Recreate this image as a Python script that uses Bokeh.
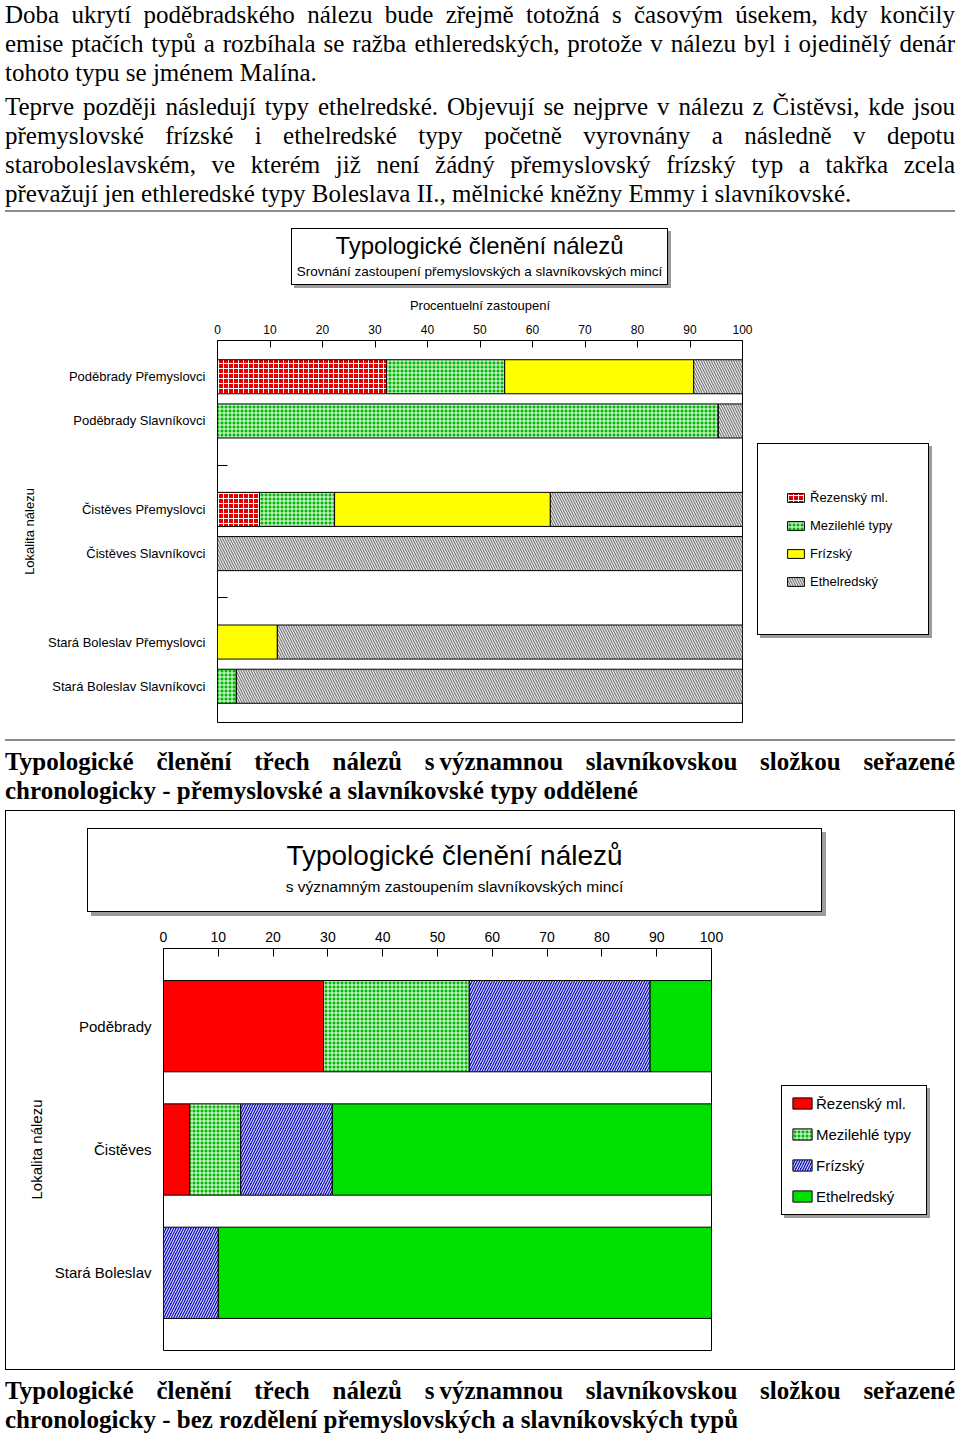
from bokeh.plotting import figure
from bokeh.models import (FactorRange, Range1d, CategoricalAxis, LinearAxis, FixedTicker,
                          Legend, LegendItem, Div, ColumnDataSource)
from bokeh.layouts import column
from bokeh.embed import file_html
from bokeh.resources import INLINE

# ---------------- texts ----------------
para1 = [
    "Doba ukrytí poděbradského nálezu bude zřejmě totožná s časovým úsekem, kdy končily",
    "emise ptačích typů a rozbíhala se ražba ethleredských, protože v nálezu byl i ojedinělý denár",
    "tohoto typu se jménem Malína.",
]
para2 = [
    "Teprve později následují typy ethelredské. Objevují se nejprve v nálezu z Čistěvsi, kde jsou",
    "přemyslovské frízské i ethelredské typy početně vyrovnány a následně v depotu",
    "staroboleslavském, ve kterém již není žádný přemyslovský frízský typ a takřka zcela",
    "převažují jen ethleredské typy Boleslava II., mělnické kněžny Emmy i slavníkovské.",
]
caption1 = [
    "Typologické členění třech nálezů s\u202fvýznamnou slavníkovskou složkou seřazené",
    "chronologicky - přemyslovské a slavníkovské typy oddělené",
]
caption2 = [
    "Typologické členění třech nálezů s\u202fvýznamnou slavníkovskou složkou seřazené",
    "chronologicky - bez rozdělení přemyslovských a slavníkovských typů",
]

title1 = "Typologické členění nálezů"
subtitle1 = "Srovnání zastoupení přemyslovských a slavníkovských mincí"
title2 = "Typologické členění nálezů"
subtitle2 = "s významným zastoupením slavníkovských mincí"
x_title1 = "Procentuelní zastoupení"
y_title = "Lokalita nálezu"

# ---------------- data ----------------
types = ["Řezenský ml.", "Mezilehlé typy", "Frízský", "Ethelredský"]
keys = ["rez", "mez", "fri", "eth"]
x_ticks = [0, 10, 20, 30, 40, 50, 60, 70, 80, 90, 100]

rows1 = ["Poděbrady Přemyslovci", "Poděbrady Slavníkovci", " ",
         "Čistěves Přemyslovci", "Čistěves Slavníkovci", "  ",
         "Stará Boleslav Přemyslovci", "Stará Boleslav Slavníkovci"]
cats1 = ["Poděbrady Přemyslovci", "Poděbrady Slavníkovci",
         "Čistěves Přemyslovci", "Čistěves Slavníkovci",
         "Stará Boleslav Přemyslovci", "Stará Boleslav Slavníkovci"]
rez1 = [32.2, 0.0, 8.0, 0.0, 0.0, 0.0]
mez1 = [22.5, 95.4, 14.3, 0.0, 0.0, 3.6]
fri1 = [36.0, 0.0, 41.1, 0.0, 11.4, 0.0]
eth1 = [9.3, 4.6, 36.6, 100.0, 88.6, 96.4]

cats2 = ["Poděbrady", "Čistěves", "Stará Boleslav"]
rez2 = [29.2, 4.8, 0.0]
mez2 = [26.6, 9.3, 0.0]
fri2 = [33.0, 16.7, 10.0]
eth2 = [11.2, 69.2, 90.0]

FONT = "Liberation Sans"
CSS_SANS = "font-family:'Liberation Sans',Arial,sans-serif;color:#000;"
W = 950
OV = 12  # vertical offset of overlay content inside a zero-height Div


def text_html(groups, size, weight, lh, gap):
    parts = []
    for gi, lines in enumerate(groups):
        for i, ln in enumerate(lines):
            al = "left" if i == len(lines) - 1 else "justify"
            mt = gap if (i == 0 and gi > 0) else 0
            parts.append(f'<div style="text-align:{al};text-align-last:{al};margin-top:{mt}px">{ln}</div>')
    return (f"<div style=\"width:{W}px;font-family:'Liberation Serif','Times New Roman',serif;"
            f"font-size:{size}px;font-weight:{weight};line-height:{lh}px;color:#000\">"
            + "".join(parts) + "</div>")


def hr(mt):
    return f'<div style="width:{W}px;height:0;border-top:2px solid #8c8c8c;margin-top:{mt}px"></div>'


def title_box(left, top, w, h, shadow, t, ts, tlh, tpad, s, ss, slh, sgap):
    return (f'<div style="{CSS_SANS}margin-left:{left}px;margin-top:{top}px;width:{w}px;height:{h}px;'
            f'box-sizing:border-box;border:1px solid #000;box-shadow:{shadow}px {shadow}px 0 #9c9c9c;'
            f'text-align:center;background:#fff">'
            f'<div style="font-size:{ts}px;line-height:{tlh}px;padding-top:{tpad}px;white-space:nowrap">{t}</div>'
            f'<div style="font-size:{ss}px;line-height:{slh}px;margin-top:{sgap}px;white-space:nowrap">{s}</div>'
            '</div>')


def overlay(boxes):
    inner = ""
    for (l, t, w, h, sh) in boxes:
        shadow = f"box-shadow:{sh}px {sh}px 0 #9c9c9c;" if sh else ""
        inner += (f'<div style="position:absolute;left:{l}px;top:{t - OV}px;width:{w}px;height:{h}px;'
                  f'box-sizing:border-box;border:1px solid #000;{shadow}pointer-events:none"></div>')
    return f'<div style="position:relative;width:0;height:0">{inner}</div>'


def style_top_axis(ax, size, tick_in, standoff):
    ax.ticker = FixedTicker(ticks=x_ticks, minor_ticks=[])
    ax.major_tick_in = tick_in
    ax.major_tick_out = 0
    ax.minor_tick_in = 0
    ax.minor_tick_out = 0
    ax.axis_line_color = "black"
    ax.major_tick_line_color = "black"
    ax.major_label_text_font = FONT
    ax.major_label_text_font_size = size
    ax.major_label_text_color = "black"
    ax.major_label_standoff = standoff


def base_fig(fw, fh, factors, pad, ml, mr, mt, mb):
    p = figure(frame_width=fw, frame_height=fh, output_backend="svg", toolbar_location=None,
               x_range=Range1d(0, 100),
               y_range=FactorRange(factors=factors, range_padding=pad, range_padding_units="absolute"),
               x_axis_location="above", y_axis_location=None,
               min_border_left=ml, min_border_right=mr, min_border_top=mt, min_border_bottom=mb,
               frame_align=False)
    p.xgrid.visible = False
    p.ygrid.visible = False
    p.outline_line_color = "black"
    p.background_fill_color = "white"
    p.border_fill_alpha = 0
    p.margin = (0, 0, 0, 0)
    return p


def cat_axis(size, standoff, lab_standoff):
    return CategoricalAxis(major_tick_in=0, major_tick_out=0, axis_line_color=None,
                           major_label_text_font=FONT, major_label_text_font_size=size,
                           major_label_text_color="black", major_label_standoff=standoff,
                           axis_label=y_title, axis_label_text_font=FONT,
                           axis_label_text_font_size=size, axis_label_text_font_style="normal",
                           axis_label_text_color="black", axis_label_standoff=lab_standoff)


# ---------------- chart 1 ----------------
# page region y 290..735; frame x 217..742, y 340..722
factors1 = list(reversed(rows1))
p1 = base_fig(525, 382, factors1, 0.32, 212, 213, 50, 13)
style_top_axis(p1.xaxis[0], "12px", 7, 7)
p1.xaxis[0].axis_label = x_title1
p1.xaxis[0].axis_label_text_font = FONT
p1.xaxis[0].axis_label_text_font_size = "13px"
p1.xaxis[0].axis_label_text_font_style = "normal"
p1.xaxis[0].axis_label_text_color = "black"
p1.xaxis[0].axis_label_standoff = 9

# tick marks only at the empty separator rows (synthetic factor centres)
gap_ticks = [i + 0.5 for i, f in enumerate(factors1) if not f.strip()]
p1.add_layout(LinearAxis(ticker=FixedTicker(ticks=gap_ticks, minor_ticks=[]),
                         major_tick_in=10, major_tick_out=0, minor_tick_in=0, minor_tick_out=0,
                         axis_line_color=None, major_tick_line_color="black",
                         major_label_text_font_size="0px", major_label_standoff=0), "left")
p1.add_layout(cat_axis("13px", 12, 8), "left")

src1 = ColumnDataSource(dict(cat=cats1, rez=rez1, mez=mez1, fri=fri1, eth=eth1))
r1 = p1.hbar_stack(keys, y="cat", height=0.77, source=src1,
                   fill_color=["#e00000", "#00b800", "#ffff00", "#808080"],
                   hatch_pattern=["cross", "cross", None, "left_diagonal_line"],
                   hatch_color="white", hatch_scale=[5, 4, 4, 5], hatch_weight=[1, 1, 1, 1],
                   line_color="black", line_width=1)

leg1 = Legend(items=[LegendItem(label=t, renderers=[r]) for t, r in zip(types, r1)],
              location=(43, 131), padding=0, margin=0, border_line_color=None,
              background_fill_alpha=0, glyph_width=21, glyph_height=11, label_height=20,
              label_standoff=4, spacing=8, label_text_font=FONT, label_text_font_size="13px",
              label_text_color="black")
p1.add_layout(leg1, "right")

# ---------------- chart 2 ----------------
# page region y 918..1370; frame x 163..711, y 948..1350
p2 = base_fig(548, 402, list(reversed(cats2)), 0.13, 158, 244, 30, 20)
style_top_axis(p2.xaxis[0], "14px", 8, 7)
p2.add_layout(cat_axis("15px", 12, 7), "left")

src2 = ColumnDataSource(dict(cat=cats2, rez=rez2, mez=mez2, fri=fri2, eth=eth2))
r2 = p2.hbar_stack(keys, y="cat", height=0.74, source=src2,
                   fill_color=["#ff0000", "#00b800", "#1414c8", "#00e000"],
                   hatch_pattern=[None, "cross", "right_diagonal_line", None],
                   hatch_color="white", hatch_scale=[4, 4, 5, 4], hatch_weight=[1, 1, 1, 1],
                   line_color="black", line_width=1)

leg2 = Legend(items=[LegendItem(label=t, renderers=[r]) for t, r in zip(types, r2)],
              location=(79, 143), padding=0, margin=0, border_line_color=None,
              background_fill_alpha=0, glyph_width=24, glyph_height=14, label_height=22,
              label_standoff=2, spacing=9, label_text_font=FONT, label_text_font_size="15px",
              label_text_color="black")
p2.add_layout(leg2, "right")

# ---------------- html blocks ----------------
div_top = Div(text=text_html([para1, para2], 25, "normal", 29, 5) + hr(2),
              width=W, height=213, margin=(0, 0, 0, 0))
div_t1 = Div(text=title_box(286, 15, 377, 57, 3, title1, 24, 28, 3, subtitle1, 13.5, 18, 3),
             width=W, height=77, margin=(0, 0, 0, 0))
div_ov1 = Div(text=overlay([(752, 443 - 735, 172, 192, 3)]),
              width=W, height=0, margin=(0, 0, 0, 0))
div_cap1 = Div(text='<div style="height:4px"></div>' + hr(0) + '<div style="height:6px"></div>'
               + text_html([caption1], 25, "bold", 29, 0),
               width=W, height=75, margin=(0, 0, 0, 0))
div_t2 = Div(text=title_box(82, 18, 735, 84, 4, title2, 28, 32, 11, subtitle2, 15.5, 20, 5),
             width=W, height=108, margin=(0, 0, 0, 0))
div_ov2 = Div(text=overlay([(0, 810 - 1370, W, 560, 0), (776, 1085 - 1370, 146, 130, 3)]),
              width=W, height=0, margin=(0, 0, 0, 0))
div_cap2 = Div(text='<div style="height:6px"></div>' + text_html([caption2], 25, "bold", 29, 0),
               width=W, height=65, margin=(0, 0, 0, 0))

page = column(div_top, div_t1, p1, div_ov1, div_cap1, div_t2, p2, div_ov2, div_cap2,
              spacing=0, margin=(0, 0, 0, 5))

open("out.html", "w").write(file_html(page, INLINE))
